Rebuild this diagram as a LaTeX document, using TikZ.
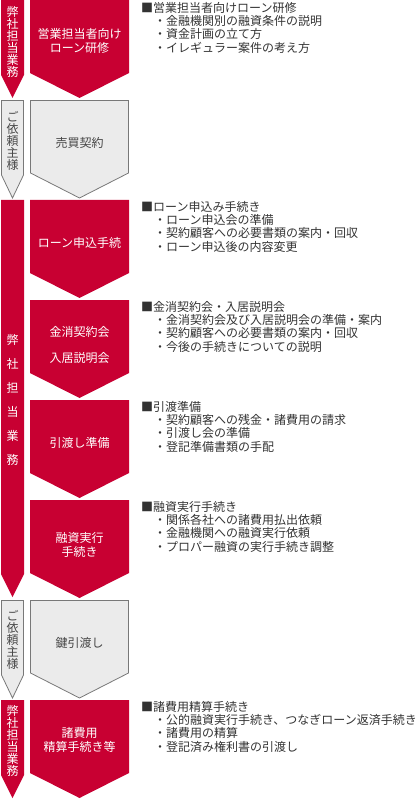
\documentclass[tikz,border=0pt]{standalone}
\usepackage{fontspec}
\setmainfont{Noto Sans CJK JP}
\definecolor{flowred}{RGB}{200,0,50}
\definecolor{flowgray}{RGB}{235,235,235}
\definecolor{flowline}{RGB}{120,120,120}
\definecolor{flowtext}{RGB}{70,70,70}
\newcommand{\noteitem}{\hspace*{13pt}・}
\tikzset{
  redshape/.style={fill=flowred},
  grayshape/.style={fill=flowgray,draw=flowline,line width=0.8pt},
  boxlabel/.style={text=white,font=\fontsize{12}{14}\selectfont,align=center,inner sep=0pt},
  graylabel/.style={boxlabel,text=flowtext},
  sidelabel/.style={text=white,font=\fontsize{12}{12}\selectfont,align=center,inner sep=0pt},
  notes/.style={anchor=north west,text=black!80,font=\fontsize{12}{13.3}\selectfont,align=left,inner sep=0pt},
}
\begin{document}
\begin{tikzpicture}[x=1pt,y=-1pt]
\useasboundingbox (0,0) rectangle (417,799);
% left column
\fill[redshape] (1,0) -- (24,0) -- (24,75) -- (12.5,98) -- (1,75) -- cycle;
\node[sidelabel] (side1) at (12.5,42) {弊\\社\\担\\当\\業\\務};
\draw[grayshape] (1.5,100.5) -- (23.5,100.5) -- (23.5,175) -- (12.5,198) -- (1.5,175) -- cycle;
\node[sidelabel,text=flowtext] (side2) at (12.5,141) {ご\\依\\頼\\主\\様};
\fill[redshape] (1,200) -- (24,200) -- (24,574) -- (12.5,597) -- (1,574) -- cycle;
\node[sidelabel,font=\fontsize{12}{24}\selectfont] (side3) at (12.5,400) {弊\\社\\担\\当\\業\\務};
\draw[grayshape] (1.5,600.5) -- (23.5,600.5) -- (23.5,675) -- (12.5,698) -- (1.5,675) -- cycle;
\node[sidelabel,text=flowtext] (side4) at (12.5,640) {ご\\依\\頼\\主\\様};
\fill[redshape] (1,700) -- (24,700) -- (24,775) -- (12.5,798) -- (1,775) -- cycle;
\node[sidelabel] (side5) at (12.5,741) {弊\\社\\担\\当\\業\\務};
% steps
\fill[redshape] (30,0) -- (129,0) -- (129,73) -- (79.5,98) -- (30,73) -- cycle;
\node[boxlabel] (step1) at (79.5,41) {営業担当者向け\\ローン研修};
\draw[grayshape] (30.5,100.5) -- (128.5,100.5) -- (128.5,173) -- (79.5,198) -- (30.5,173) -- cycle;
\node[graylabel] (step2) at (79.5,143) {売買契約};
\fill[redshape] (30,200) -- (129,200) -- (129,273) -- (79.5,298) -- (30,273) -- cycle;
\node[boxlabel] (step3) at (79.5,243) {ローン申込手続};
\fill[redshape] (30,300) -- (129,300) -- (129,373) -- (79.5,398) -- (30,373) -- cycle;
\node[boxlabel,font=\fontsize{12}{26}\selectfont] (step4) at (79.5,345) {金消契約会\\入居説明会};
\fill[redshape] (30,400) -- (129,400) -- (129,473) -- (79.5,498) -- (30,473) -- cycle;
\node[boxlabel] (step5) at (79.5,443) {引渡し準備};
\fill[redshape] (30,500) -- (129,500) -- (129,573) -- (79.5,598) -- (30,573) -- cycle;
\node[boxlabel] (step6) at (79.5,545) {融資実行\\手続き};
\draw[grayshape] (30.5,600.5) -- (128.5,600.5) -- (128.5,673) -- (79.5,698) -- (30.5,673) -- cycle;
\node[graylabel] (step7) at (79.5,643) {鍵引渡し};
\fill[redshape] (30,700) -- (129,700) -- (129,773) -- (79.5,798) -- (30,773) -- cycle;
\node[boxlabel] (step8) at (79.5,740) {諸費用\\精算手続き等};
% notes
\node[notes] (note1) at (141,2) {■営業担当者向けローン研修\\\noteitem 金融機関別の融資条件の説明\\\noteitem 資金計画の立て方\\\noteitem イレギュラー案件の考え方};
\node[notes] (note3) at (141,201) {■ローン申込み手続き\\\noteitem ローン申込会の準備\\\noteitem 契約顧客への必要書類の案内・回収\\\noteitem ローン申込後の内容変更};
\node[notes] (note4) at (141,301) {■金消契約会・入居説明会\\\noteitem 金消契約会及び入居説明会の準備・案内\\\noteitem 契約顧客への必要書類の案内・回収\\\noteitem 今後の手続きについての説明};
\node[notes] (note5) at (141,401) {■引渡準備\\\noteitem 契約顧客への残金・諸費用の請求\\\noteitem 引渡し会の準備\\\noteitem 登記準備書類の手配};
\node[notes] (note6) at (141,501) {■融資実行手続き\\\noteitem 関係各社への諸費用払出依頼\\\noteitem 金融機関への融資実行依頼\\\noteitem プロパー融資の実行手続き調整};
\node[notes] (note8) at (141,701) {■諸費用精算手続き\\\noteitem 公的融資実行手続き、つなぎローン返済手続き\\\noteitem 諸費用の精算\\\noteitem 登記済み権利書の引渡し};
\end{tikzpicture}
\end{document}
